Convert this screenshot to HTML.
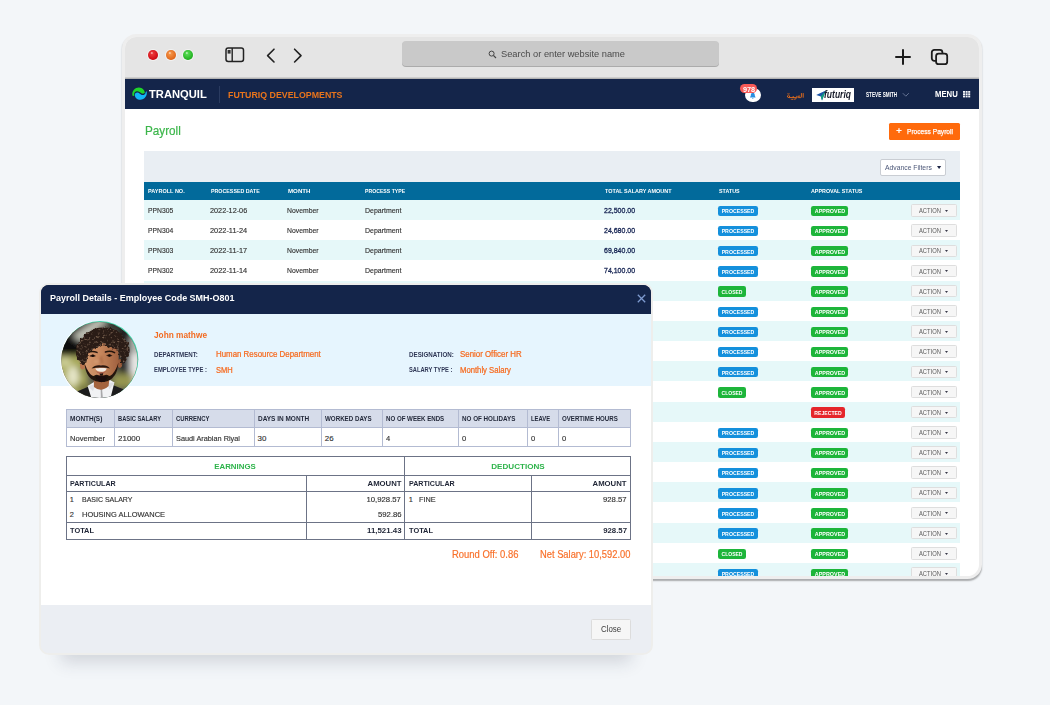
<!DOCTYPE html>
<html lang="en">
<head>
<meta charset="utf-8">
<title>Payroll</title>
<style>
html,body{margin:0;padding:0;}
body{width:1050px;height:705px;position:relative;overflow:hidden;background:#f3f6f9;font-family:"Liberation Sans",sans-serif;}
.t{position:absolute;white-space:nowrap;}
#win{position:absolute;left:122px;top:34px;width:854px;height:539px;border:3px solid #eeeeee;border-radius:14.5px;background:#fff;overflow:hidden;box-shadow:0 2px 1.5px -0.5px rgba(0,0,0,.3);}
#modal{position:absolute;left:39px;top:283px;width:610px;height:368px;border:2px solid #eeeeec;border-radius:10px;background:linear-gradient(#14254a 0,#14254a 28px,#fff 28px,#fff 320px,#ebeef3 320px);box-shadow:0 29px 16px -22px rgba(40,50,70,.17);}
#modal .clip{position:absolute;left:0;top:0;width:610px;height:368px;border-radius:8px;overflow:hidden;}
svg{position:absolute;overflow:visible;}
</style>
</head>
<body>
<div id="win">
<div style="position:absolute;left:0.00px;top:0.00px;width:854.00px;height:41.00px;background:#e5e5e5;"></div>
<div style="position:absolute;left:0.00px;top:39.60px;width:854.00px;height:2.00px;background:linear-gradient(#dadada,#a6a6a6);"></div>
<div style="position:absolute;left:22.90px;top:13.00px;width:9.80px;height:9.80px;border-radius:50%;background:radial-gradient(circle at 38% 30%, rgba(255,255,255,.75) 0%, rgba(255,255,255,0) 16%), radial-gradient(circle at 42% 36%, #f04040 0%, #cf0a14 70%);box-shadow:0 0 0 1px rgba(255,255,255,.5);"></div>
<div style="position:absolute;left:40.80px;top:13.00px;width:9.80px;height:9.80px;border-radius:50%;background:radial-gradient(circle at 38% 30%, rgba(255,255,255,.75) 0%, rgba(255,255,255,0) 16%), radial-gradient(circle at 42% 36%, #f79a4e 0%, #e0661a 70%);box-shadow:0 0 0 1px rgba(255,255,255,.5);"></div>
<div style="position:absolute;left:58.30px;top:13.00px;width:9.80px;height:9.80px;border-radius:50%;background:radial-gradient(circle at 38% 30%, rgba(255,255,255,.75) 0%, rgba(255,255,255,0) 16%), radial-gradient(circle at 42% 36%, #5fe05a 0%, #20b020 70%);box-shadow:0 0 0 1px rgba(255,255,255,.5);"></div>
<svg style="left:100px;top:10px" width="20" height="16" viewBox="0 0 20 16"><rect x="1" y="1" width="17.5" height="13.5" rx="2.2" fill="none" stroke="#222" stroke-width="1.5"/><line x1="7.2" y1="1" x2="7.2" y2="14.5" stroke="#222" stroke-width="1.4"/><rect x="2.6" y="3" width="3" height="3.6" fill="#333"/></svg>
<svg style="left:140px;top:10px" width="40" height="18" viewBox="0 0 40 18"><path d="M9 2.2 L2.6 8.6 L9 15" fill="none" stroke="#222" stroke-width="1.6" stroke-linecap="round" stroke-linejoin="round"/><path d="M29.6 2.2 L36 8.6 L29.6 15" fill="none" stroke="#222" stroke-width="1.6" stroke-linecap="round" stroke-linejoin="round"/></svg>
<div style="position:absolute;left:277.30px;top:4.30px;width:316.70px;height:25.20px;background:#c9c9c9;border-radius:4px;box-shadow:0 1px 0 rgba(0,0,0,.25);"></div>
<svg style="left:362.5px;top:12.5px" width="9" height="9" viewBox="0 0 9 9"><circle cx="3.6" cy="3.6" r="2.5" fill="none" stroke="#444" stroke-width="1"/><line x1="5.5" y1="5.5" x2="8" y2="8" stroke="#444" stroke-width="1.1"/></svg>
<svg style="left:768.1px;top:9.6px" width="20" height="20" viewBox="0 0 20 20"><path d="M10 2.9 V16.9 M3 9.9 H17" stroke="#1c1c1c" stroke-width="2" stroke-linecap="round"/></svg>
<svg style="left:804px;top:9.5px" width="22" height="22" viewBox="0 0 22 22"><rect x="2.8" y="2.8" width="10.6" height="11" rx="2.5" fill="none" stroke="#1c1c1c" stroke-width="1.8"/><rect x="7.1" y="6.6" width="11.1" height="10.6" rx="2.5" fill="#e5e5e5" stroke="#1c1c1c" stroke-width="1.8"/></svg>
<div style="position:absolute;left:0.00px;top:41.50px;width:854.00px;height:30.90px;background:#14254a;"></div>
<svg style="left:7px;top:50px" width="16" height="14" viewBox="0 0 16 14"><path d="M0.5 8.7 C-0.6 3.6 3.4 0.4 7 0.5 C10.4 0.6 12.6 3 12.8 5.8 C12.4 6.6 10.6 7 9.4 6.2 C8 5.2 6.8 4 4.8 4.2 C3.4 4.4 2.4 5.4 2.2 6.6 C2 7.6 2 8.2 2.2 8.9 Z" fill="#1fd52a"/><path d="M2.8 7.4 C3 6.2 4.2 5.4 5.4 5.5 C7 5.6 8 7.4 9.8 7.9 C11.6 8.4 13 7.4 13.4 6.2 C13.8 5.2 13.8 4.6 14.6 4.3 C15.8 8.6 12.4 12.8 8.4 12.8 C5 12.8 2.6 10.2 2.8 7.4 Z" fill="#12b7f5"/></svg>
<div style="position:absolute;left:94.20px;top:48.60px;width:1.00px;height:17.50px;background:#2a3b60;"></div>
<div style="position:absolute;left:620.40px;top:50.60px;width:15.40px;height:14.60px;background:#fff;border-radius:50%;"></div>
<svg style="left:624.4px;top:54.6px" width="7.6" height="7.6" viewBox="0 0 9 9"><path d="M4.5 0.8 C2.8 0.8 2.2 2.2 2.2 3.6 C2.2 5.2 1.2 5.8 1.2 6.4 H7.8 C7.8 5.8 6.8 5.2 6.8 3.6 C6.8 2.2 6.2 0.8 4.5 0.8 Z M3.6 7 a0.9 0.9 0 0 0 1.8 0 Z" fill="#2a8fe0"/></svg>
<div style="position:absolute;left:614.60px;top:46.90px;width:17.80px;height:9.60px;background:#f95a57;border-radius:4.8px;"></div>
<svg style="left:661px;top:55px" width="19" height="8" viewBox="0 0 19 8"><g fill="none" stroke="#e06c1c" stroke-width="0.95" stroke-linecap="round" stroke-linejoin="round"><path d="M17.2 1.5 V5.3"/><path d="M15.4 1.5 V4.9 Q15.4 5.6 14.6 5.6 H12.2 Q11.5 5.4 12.1 4.4 Q12.9 3.5 13.8 4.1"/><path d="M11 4.2 Q11.5 6.3 9.3 7.2"/><path d="M9.6 5.6 H5.2 M7.2 5.6 V4.4"/><path d="M4.9 5.6 Q2.6 6.1 1.5 5 Q1 3.7 2.4 3.1 Q3.9 3.4 3.7 5.2"/></g><g fill="#e06c1c"><circle cx="8.2" cy="7.2" r="0.6"/><circle cx="5.3" cy="7.2" r="0.55"/><circle cx="6.5" cy="7.2" r="0.55"/><circle cx="1.9" cy="1.7" r="0.55"/><circle cx="3.1" cy="1.7" r="0.55"/></g></svg>
<div style="position:absolute;left:687.00px;top:50.80px;width:42.00px;height:14.30px;background:#fff;"></div>
<svg style="left:690.6px;top:52.6px" width="11" height="11" viewBox="0 0 11 11"><path d="M0.2 5 L9.8 0.4 L6 10.4 L4.8 6.4 Z" fill="#1d55a8"/><path d="M4.8 6.4 L9.8 0.4 L6 10.4 Z" fill="#12a07c"/></svg>
<svg style="left:777px;top:55px" width="8" height="6" viewBox="0 0 8 6"><path d="M0.8 1.2 L3.8 4.2 L6.8 1.2" fill="none" stroke="#6d7c9c" stroke-width="0.9"/></svg>
<svg style="left:837.7px;top:53.9px" width="8" height="7" viewBox="0 0 8 7"><g fill="#f4f6fa"><rect x="0" y="0" width="2" height="1.8"/><rect x="2.6" y="0" width="2" height="1.8"/><rect x="5.2" y="0" width="2" height="1.8"/><rect x="0" y="2.3" width="2" height="1.8"/><rect x="2.6" y="2.3" width="2" height="1.8"/><rect x="5.2" y="2.3" width="2" height="1.8"/><rect x="0" y="4.6" width="2" height="1.8"/><rect x="2.6" y="4.6" width="2" height="1.8"/><rect x="5.2" y="4.6" width="2" height="1.8"/></g></svg>
<div style="position:absolute;left:763.90px;top:85.50px;width:71.30px;height:17.30px;background:#ff6a0c;border-radius:1.5px;"></div>
<div style="position:absolute;left:19.20px;top:114.40px;width:816.00px;height:30.40px;background:#e9eef3;"></div>
<div style="position:absolute;left:755.30px;top:121.50px;width:65.40px;height:17.50px;background:#fff;border:1px solid #c9cdd3;border-radius:2px;box-sizing:border-box;"></div>
<svg style="left:811.5px;top:128.9px" width="4.2" height="3" viewBox="0 0 4.2 3"><path d="M0 0 H4.2 L2.1 3 Z" fill="#1c2546"/></svg>
<div style="position:absolute;left:19.20px;top:144.90px;width:816.00px;height:18.00px;background:#026a9b;"></div>
<div style="position:absolute;left:19.20px;top:162.85px;width:816.00px;height:20.17px;background:#e6f8f9;"></div>
<div style="position:absolute;left:592.90px;top:168.74px;width:39.70px;height:10.40px;background:#1490dc;border-radius:2.2px;"></div>
<div style="position:absolute;left:685.80px;top:168.74px;width:37.40px;height:10.40px;background:#1db53a;border-radius:2.2px;"></div>
<div style="position:absolute;left:785.80px;top:167.24px;width:45.90px;height:12.40px;background:#f6f6f6;border:1px solid #dedede;border-radius:1.5px;box-sizing:border-box;"></div>
<svg style="left:820.10px;top:172.83px" width="3" height="2" viewBox="0 0 3 2"><path d="M0 0 H3 L1.5 2 Z" fill="#3a3a4a"/></svg>
<div style="position:absolute;left:592.90px;top:188.91px;width:39.70px;height:10.40px;background:#1490dc;border-radius:2.2px;"></div>
<div style="position:absolute;left:685.80px;top:188.91px;width:37.40px;height:10.40px;background:#1db53a;border-radius:2.2px;"></div>
<div style="position:absolute;left:785.80px;top:187.41px;width:45.90px;height:12.40px;background:#f6f6f6;border:1px solid #dedede;border-radius:1.5px;box-sizing:border-box;"></div>
<svg style="left:820.10px;top:193.00px" width="3" height="2" viewBox="0 0 3 2"><path d="M0 0 H3 L1.5 2 Z" fill="#3a3a4a"/></svg>
<div style="position:absolute;left:19.20px;top:203.19px;width:816.00px;height:20.17px;background:#e6f8f9;"></div>
<div style="position:absolute;left:592.90px;top:209.08px;width:39.70px;height:10.40px;background:#1490dc;border-radius:2.2px;"></div>
<div style="position:absolute;left:685.80px;top:209.08px;width:37.40px;height:10.40px;background:#1db53a;border-radius:2.2px;"></div>
<div style="position:absolute;left:785.80px;top:207.58px;width:45.90px;height:12.40px;background:#f6f6f6;border:1px solid #dedede;border-radius:1.5px;box-sizing:border-box;"></div>
<svg style="left:820.10px;top:213.17px" width="3" height="2" viewBox="0 0 3 2"><path d="M0 0 H3 L1.5 2 Z" fill="#3a3a4a"/></svg>
<div style="position:absolute;left:592.90px;top:229.25px;width:39.70px;height:10.40px;background:#1490dc;border-radius:2.2px;"></div>
<div style="position:absolute;left:685.80px;top:229.25px;width:37.40px;height:10.40px;background:#1db53a;border-radius:2.2px;"></div>
<div style="position:absolute;left:785.80px;top:227.75px;width:45.90px;height:12.40px;background:#f6f6f6;border:1px solid #dedede;border-radius:1.5px;box-sizing:border-box;"></div>
<svg style="left:820.10px;top:233.34px" width="3" height="2" viewBox="0 0 3 2"><path d="M0 0 H3 L1.5 2 Z" fill="#3a3a4a"/></svg>
<div style="position:absolute;left:19.20px;top:243.53px;width:816.00px;height:20.17px;background:#e6f8f9;"></div>
<div style="position:absolute;left:592.90px;top:249.41px;width:28.40px;height:10.40px;background:#1db53a;border-radius:2.2px;"></div>
<div style="position:absolute;left:685.80px;top:249.41px;width:37.40px;height:10.40px;background:#1db53a;border-radius:2.2px;"></div>
<div style="position:absolute;left:785.80px;top:247.91px;width:45.90px;height:12.40px;background:#f6f6f6;border:1px solid #dedede;border-radius:1.5px;box-sizing:border-box;"></div>
<svg style="left:820.10px;top:253.51px" width="3" height="2" viewBox="0 0 3 2"><path d="M0 0 H3 L1.5 2 Z" fill="#3a3a4a"/></svg>
<div style="position:absolute;left:592.90px;top:269.58px;width:39.70px;height:10.40px;background:#1490dc;border-radius:2.2px;"></div>
<div style="position:absolute;left:685.80px;top:269.58px;width:37.40px;height:10.40px;background:#1db53a;border-radius:2.2px;"></div>
<div style="position:absolute;left:785.80px;top:268.08px;width:45.90px;height:12.40px;background:#f6f6f6;border:1px solid #dedede;border-radius:1.5px;box-sizing:border-box;"></div>
<svg style="left:820.10px;top:273.69px" width="3" height="2" viewBox="0 0 3 2"><path d="M0 0 H3 L1.5 2 Z" fill="#3a3a4a"/></svg>
<div style="position:absolute;left:19.20px;top:283.87px;width:816.00px;height:20.17px;background:#e6f8f9;"></div>
<div style="position:absolute;left:592.90px;top:289.75px;width:39.70px;height:10.40px;background:#1490dc;border-radius:2.2px;"></div>
<div style="position:absolute;left:685.80px;top:289.75px;width:37.40px;height:10.40px;background:#1db53a;border-radius:2.2px;"></div>
<div style="position:absolute;left:785.80px;top:288.25px;width:45.90px;height:12.40px;background:#f6f6f6;border:1px solid #dedede;border-radius:1.5px;box-sizing:border-box;"></div>
<svg style="left:820.10px;top:293.86px" width="3" height="2" viewBox="0 0 3 2"><path d="M0 0 H3 L1.5 2 Z" fill="#3a3a4a"/></svg>
<div style="position:absolute;left:592.90px;top:309.92px;width:39.70px;height:10.40px;background:#1490dc;border-radius:2.2px;"></div>
<div style="position:absolute;left:685.80px;top:309.92px;width:37.40px;height:10.40px;background:#1db53a;border-radius:2.2px;"></div>
<div style="position:absolute;left:785.80px;top:308.42px;width:45.90px;height:12.40px;background:#f6f6f6;border:1px solid #dedede;border-radius:1.5px;box-sizing:border-box;"></div>
<svg style="left:820.10px;top:314.02px" width="3" height="2" viewBox="0 0 3 2"><path d="M0 0 H3 L1.5 2 Z" fill="#3a3a4a"/></svg>
<div style="position:absolute;left:19.20px;top:324.21px;width:816.00px;height:20.17px;background:#e6f8f9;"></div>
<div style="position:absolute;left:592.90px;top:330.10px;width:39.70px;height:10.40px;background:#1490dc;border-radius:2.2px;"></div>
<div style="position:absolute;left:685.80px;top:330.10px;width:37.40px;height:10.40px;background:#1db53a;border-radius:2.2px;"></div>
<div style="position:absolute;left:785.80px;top:328.60px;width:45.90px;height:12.40px;background:#f6f6f6;border:1px solid #dedede;border-radius:1.5px;box-sizing:border-box;"></div>
<svg style="left:820.10px;top:334.20px" width="3" height="2" viewBox="0 0 3 2"><path d="M0 0 H3 L1.5 2 Z" fill="#3a3a4a"/></svg>
<div style="position:absolute;left:592.90px;top:350.26px;width:28.40px;height:10.40px;background:#1db53a;border-radius:2.2px;"></div>
<div style="position:absolute;left:685.80px;top:350.26px;width:37.40px;height:10.40px;background:#1db53a;border-radius:2.2px;"></div>
<div style="position:absolute;left:785.80px;top:348.76px;width:45.90px;height:12.40px;background:#f6f6f6;border:1px solid #dedede;border-radius:1.5px;box-sizing:border-box;"></div>
<svg style="left:820.10px;top:354.37px" width="3" height="2" viewBox="0 0 3 2"><path d="M0 0 H3 L1.5 2 Z" fill="#3a3a4a"/></svg>
<div style="position:absolute;left:19.20px;top:364.55px;width:816.00px;height:20.17px;background:#e6f8f9;"></div>
<div style="position:absolute;left:685.80px;top:370.44px;width:34.30px;height:10.40px;background:#e5262b;border-radius:2.2px;"></div>
<div style="position:absolute;left:785.80px;top:368.94px;width:45.90px;height:12.40px;background:#f6f6f6;border:1px solid #dedede;border-radius:1.5px;box-sizing:border-box;"></div>
<svg style="left:820.10px;top:374.54px" width="3" height="2" viewBox="0 0 3 2"><path d="M0 0 H3 L1.5 2 Z" fill="#3a3a4a"/></svg>
<div style="position:absolute;left:592.90px;top:390.61px;width:39.70px;height:10.40px;background:#1490dc;border-radius:2.2px;"></div>
<div style="position:absolute;left:685.80px;top:390.61px;width:37.40px;height:10.40px;background:#1db53a;border-radius:2.2px;"></div>
<div style="position:absolute;left:785.80px;top:389.11px;width:45.90px;height:12.40px;background:#f6f6f6;border:1px solid #dedede;border-radius:1.5px;box-sizing:border-box;"></div>
<svg style="left:820.10px;top:394.71px" width="3" height="2" viewBox="0 0 3 2"><path d="M0 0 H3 L1.5 2 Z" fill="#3a3a4a"/></svg>
<div style="position:absolute;left:19.20px;top:404.89px;width:816.00px;height:20.17px;background:#e6f8f9;"></div>
<div style="position:absolute;left:592.90px;top:410.77px;width:39.70px;height:10.40px;background:#1490dc;border-radius:2.2px;"></div>
<div style="position:absolute;left:685.80px;top:410.77px;width:37.40px;height:10.40px;background:#1db53a;border-radius:2.2px;"></div>
<div style="position:absolute;left:785.80px;top:409.27px;width:45.90px;height:12.40px;background:#f6f6f6;border:1px solid #dedede;border-radius:1.5px;box-sizing:border-box;"></div>
<svg style="left:820.10px;top:414.88px" width="3" height="2" viewBox="0 0 3 2"><path d="M0 0 H3 L1.5 2 Z" fill="#3a3a4a"/></svg>
<div style="position:absolute;left:592.90px;top:430.95px;width:39.70px;height:10.40px;background:#1490dc;border-radius:2.2px;"></div>
<div style="position:absolute;left:685.80px;top:430.95px;width:37.40px;height:10.40px;background:#1db53a;border-radius:2.2px;"></div>
<div style="position:absolute;left:785.80px;top:429.45px;width:45.90px;height:12.40px;background:#f6f6f6;border:1px solid #dedede;border-radius:1.5px;box-sizing:border-box;"></div>
<svg style="left:820.10px;top:435.05px" width="3" height="2" viewBox="0 0 3 2"><path d="M0 0 H3 L1.5 2 Z" fill="#3a3a4a"/></svg>
<div style="position:absolute;left:19.20px;top:445.23px;width:816.00px;height:20.17px;background:#e6f8f9;"></div>
<div style="position:absolute;left:592.90px;top:451.12px;width:39.70px;height:10.40px;background:#1490dc;border-radius:2.2px;"></div>
<div style="position:absolute;left:685.80px;top:451.12px;width:37.40px;height:10.40px;background:#1db53a;border-radius:2.2px;"></div>
<div style="position:absolute;left:785.80px;top:449.62px;width:45.90px;height:12.40px;background:#f6f6f6;border:1px solid #dedede;border-radius:1.5px;box-sizing:border-box;"></div>
<svg style="left:820.10px;top:455.22px" width="3" height="2" viewBox="0 0 3 2"><path d="M0 0 H3 L1.5 2 Z" fill="#3a3a4a"/></svg>
<div style="position:absolute;left:592.90px;top:471.29px;width:39.70px;height:10.40px;background:#1490dc;border-radius:2.2px;"></div>
<div style="position:absolute;left:685.80px;top:471.29px;width:37.40px;height:10.40px;background:#1db53a;border-radius:2.2px;"></div>
<div style="position:absolute;left:785.80px;top:469.79px;width:45.90px;height:12.40px;background:#f6f6f6;border:1px solid #dedede;border-radius:1.5px;box-sizing:border-box;"></div>
<svg style="left:820.10px;top:475.39px" width="3" height="2" viewBox="0 0 3 2"><path d="M0 0 H3 L1.5 2 Z" fill="#3a3a4a"/></svg>
<div style="position:absolute;left:19.20px;top:485.57px;width:816.00px;height:20.17px;background:#e6f8f9;"></div>
<div style="position:absolute;left:592.90px;top:491.46px;width:39.70px;height:10.40px;background:#1490dc;border-radius:2.2px;"></div>
<div style="position:absolute;left:685.80px;top:491.46px;width:37.40px;height:10.40px;background:#1db53a;border-radius:2.2px;"></div>
<div style="position:absolute;left:785.80px;top:489.96px;width:45.90px;height:12.40px;background:#f6f6f6;border:1px solid #dedede;border-radius:1.5px;box-sizing:border-box;"></div>
<svg style="left:820.10px;top:495.56px" width="3" height="2" viewBox="0 0 3 2"><path d="M0 0 H3 L1.5 2 Z" fill="#3a3a4a"/></svg>
<div style="position:absolute;left:592.90px;top:511.62px;width:28.40px;height:10.40px;background:#1db53a;border-radius:2.2px;"></div>
<div style="position:absolute;left:685.80px;top:511.62px;width:37.40px;height:10.40px;background:#1db53a;border-radius:2.2px;"></div>
<div style="position:absolute;left:785.80px;top:510.12px;width:45.90px;height:12.40px;background:#f6f6f6;border:1px solid #dedede;border-radius:1.5px;box-sizing:border-box;"></div>
<svg style="left:820.10px;top:515.73px" width="3" height="2" viewBox="0 0 3 2"><path d="M0 0 H3 L1.5 2 Z" fill="#3a3a4a"/></svg>
<div style="position:absolute;left:19.20px;top:525.91px;width:816.00px;height:20.17px;background:#e6f8f9;"></div>
<div style="position:absolute;left:592.90px;top:531.80px;width:39.70px;height:10.40px;background:#1490dc;border-radius:2.2px;"></div>
<div style="position:absolute;left:685.80px;top:531.80px;width:37.40px;height:10.40px;background:#1db53a;border-radius:2.2px;"></div>
<div style="position:absolute;left:785.80px;top:530.30px;width:45.90px;height:12.40px;background:#f6f6f6;border:1px solid #dedede;border-radius:1.5px;box-sizing:border-box;"></div>
<svg style="left:820.10px;top:535.90px" width="3" height="2" viewBox="0 0 3 2"><path d="M0 0 H3 L1.5 2 Z" fill="#3a3a4a"/></svg>
<span class="t" style="top:12px;font-size:8.8px;line-height:11.44px;color:#4a4a4a;left:376px;transform:scaleX(1.0566);transform-origin:left center;">Search or enter website name</span>
<span class="t" style="top:50px;font-size:11px;line-height:14.3px;color:#ffffff;font-weight:700;left:24.4px;transform:scaleX(1.0171);transform-origin:left center;">TRANQUIL</span>
<span class="t" style="top:52px;font-size:9.6px;line-height:12.48px;color:#e8741c;font-weight:700;left:103.4px;transform:scaleX(0.9180);transform-origin:left center;">FUTURIQ DEVELOPMENTS</span>
<span class="t" style="top:48px;font-size:7.2px;line-height:9.36px;color:#fff;font-weight:700;left:523.9px;width:200px;text-align:center;transform:scaleX(1.0167);transform-origin:center center;">978</span>
<span class="t" style="top:51px;font-size:10.2px;line-height:13.26px;color:#181c2a;font-weight:700;left:699.2px;transform:scaleX(0.8372);transform-origin:left center;font-style:italic;">futuriq</span>
<span class="t" style="top:54px;font-size:6.6px;line-height:8.58px;color:#fff;font-weight:700;left:740.9px;transform:scaleX(0.7096);transform-origin:left center;">STEVE SMITH</span>
<span class="t" style="top:53px;font-size:8.2px;line-height:10.66px;color:#fff;font-weight:700;left:810px;transform:scaleX(0.9457);transform-origin:left center;">MENU</span>
<span class="t" style="top:86px;font-size:12.6px;line-height:16.38px;color:#3cb64b;left:19.5px;transform:scaleX(0.9299);transform-origin:left center;-webkit-text-stroke:0.2px;">Payroll</span>
<span class="t" style="top:89px;font-size:9px;line-height:11.7px;color:#fff;font-weight:700;left:770.9px;transform:scaleX(1.1395);transform-origin:left center;">+</span>
<span class="t" style="top:90px;font-size:7.3px;line-height:9.49px;color:#fff;left:781.8px;transform:scaleX(0.9072);transform-origin:left center;-webkit-text-stroke:0.25px;">Process Payroll</span>
<span class="t" style="top:126px;font-size:7.2px;line-height:9.36px;color:#4b5677;left:760.4px;transform:scaleX(0.9446);transform-origin:left center;">Advance Filters</span>
<span class="t" style="top:150px;font-size:6.1px;line-height:7.93px;color:#fff;font-weight:700;left:23px;transform:scaleX(0.9055);transform-origin:left center;">PAYROLL NO.</span>
<span class="t" style="top:150px;font-size:6.1px;line-height:7.93px;color:#fff;font-weight:700;left:85.5px;transform:scaleX(0.8700);transform-origin:left center;">PROCESSED DATE</span>
<span class="t" style="top:150px;font-size:6.1px;line-height:7.93px;color:#fff;font-weight:700;left:162.8px;transform:scaleX(1.0070);transform-origin:left center;">MONTH</span>
<span class="t" style="top:150px;font-size:6.1px;line-height:7.93px;color:#fff;font-weight:700;left:240.3px;transform:scaleX(0.8456);transform-origin:left center;">PROCESS TYPE</span>
<span class="t" style="top:150px;font-size:6.1px;line-height:7.93px;color:#fff;font-weight:700;left:479.9px;transform:scaleX(0.8954);transform-origin:left center;">TOTAL SALARY AMOUNT</span>
<span class="t" style="top:150px;font-size:6.1px;line-height:7.93px;color:#fff;font-weight:700;left:593.6px;transform:scaleX(0.8772);transform-origin:left center;">STATUS</span>
<span class="t" style="top:150px;font-size:6.1px;line-height:7.93px;color:#fff;font-weight:700;left:686.4px;transform:scaleX(0.8791);transform-origin:left center;">APPROVAL STATUS</span>
<span class="t" style="top:169px;font-size:7.7px;line-height:10.01px;color:#333;left:22.8px;transform:scaleX(0.8799);transform-origin:left center;-webkit-text-stroke:0.15px;">PPN305</span>
<span class="t" style="top:169px;font-size:7.7px;line-height:10.01px;color:#333;left:84.7px;transform:scaleX(0.9459);transform-origin:left center;-webkit-text-stroke:0.15px;">2022-12-06</span>
<span class="t" style="top:169px;font-size:7.7px;line-height:10.01px;color:#333;left:162.3px;transform:scaleX(0.8881);transform-origin:left center;-webkit-text-stroke:0.15px;">November</span>
<span class="t" style="top:169px;font-size:7.7px;line-height:10.01px;color:#333;left:240px;transform:scaleX(0.9061);transform-origin:left center;-webkit-text-stroke:0.15px;">Department</span>
<span class="t" style="top:169px;font-size:7.7px;line-height:10.01px;color:#1a2856;left:479.2px;transform:scaleX(0.9093);transform-origin:left center;-webkit-text-stroke:0.32px;">22,500.00</span>
<span class="t" style="top:171px;font-size:6.0px;line-height:7.8px;color:#fff;font-weight:700;left:512.75px;width:200px;text-align:center;transform:scaleX(0.8677);transform-origin:center center;">PROCESSED</span>
<span class="t" style="top:171px;font-size:6.0px;line-height:7.8px;color:#fff;font-weight:700;left:604.5px;width:200px;text-align:center;transform:scaleX(0.8994);transform-origin:center center;">APPROVED</span>
<span class="t" style="top:170px;font-size:6.4px;line-height:8.32px;color:#5a5a5a;left:793.9px;transform:scaleX(0.9066);transform-origin:left center;">ACTION</span>
<span class="t" style="top:189px;font-size:7.7px;line-height:10.01px;color:#333;left:22.8px;transform:scaleX(0.8799);transform-origin:left center;-webkit-text-stroke:0.15px;">PPN304</span>
<span class="t" style="top:189px;font-size:7.7px;line-height:10.01px;color:#333;left:84.7px;transform:scaleX(0.9596);transform-origin:left center;-webkit-text-stroke:0.15px;">2022-11-24</span>
<span class="t" style="top:189px;font-size:7.7px;line-height:10.01px;color:#333;left:162.3px;transform:scaleX(0.8881);transform-origin:left center;-webkit-text-stroke:0.15px;">November</span>
<span class="t" style="top:189px;font-size:7.7px;line-height:10.01px;color:#333;left:240px;transform:scaleX(0.9061);transform-origin:left center;-webkit-text-stroke:0.15px;">Department</span>
<span class="t" style="top:189px;font-size:7.7px;line-height:10.01px;color:#1a2856;left:479.2px;transform:scaleX(0.9093);transform-origin:left center;-webkit-text-stroke:0.32px;">24,680.00</span>
<span class="t" style="top:191px;font-size:6.0px;line-height:7.8px;color:#fff;font-weight:700;left:512.75px;width:200px;text-align:center;transform:scaleX(0.8677);transform-origin:center center;">PROCESSED</span>
<span class="t" style="top:191px;font-size:6.0px;line-height:7.8px;color:#fff;font-weight:700;left:604.5px;width:200px;text-align:center;transform:scaleX(0.8994);transform-origin:center center;">APPROVED</span>
<span class="t" style="top:190px;font-size:6.4px;line-height:8.32px;color:#5a5a5a;left:793.9px;transform:scaleX(0.9066);transform-origin:left center;">ACTION</span>
<span class="t" style="top:209px;font-size:7.7px;line-height:10.01px;color:#333;left:22.8px;transform:scaleX(0.8799);transform-origin:left center;-webkit-text-stroke:0.15px;">PPN303</span>
<span class="t" style="top:209px;font-size:7.7px;line-height:10.01px;color:#333;left:84.7px;transform:scaleX(0.9596);transform-origin:left center;-webkit-text-stroke:0.15px;">2022-11-17</span>
<span class="t" style="top:209px;font-size:7.7px;line-height:10.01px;color:#333;left:162.3px;transform:scaleX(0.8881);transform-origin:left center;-webkit-text-stroke:0.15px;">November</span>
<span class="t" style="top:209px;font-size:7.7px;line-height:10.01px;color:#333;left:240px;transform:scaleX(0.9061);transform-origin:left center;-webkit-text-stroke:0.15px;">Department</span>
<span class="t" style="top:209px;font-size:7.7px;line-height:10.01px;color:#1a2856;left:479.2px;transform:scaleX(0.9093);transform-origin:left center;-webkit-text-stroke:0.32px;">69,840.00</span>
<span class="t" style="top:212px;font-size:6.0px;line-height:7.8px;color:#fff;font-weight:700;left:512.75px;width:200px;text-align:center;transform:scaleX(0.8677);transform-origin:center center;">PROCESSED</span>
<span class="t" style="top:212px;font-size:6.0px;line-height:7.8px;color:#fff;font-weight:700;left:604.5px;width:200px;text-align:center;transform:scaleX(0.8994);transform-origin:center center;">APPROVED</span>
<span class="t" style="top:210px;font-size:6.4px;line-height:8.32px;color:#5a5a5a;left:793.9px;transform:scaleX(0.9066);transform-origin:left center;">ACTION</span>
<span class="t" style="top:229px;font-size:7.7px;line-height:10.01px;color:#333;left:22.8px;transform:scaleX(0.8799);transform-origin:left center;-webkit-text-stroke:0.15px;">PPN302</span>
<span class="t" style="top:229px;font-size:7.7px;line-height:10.01px;color:#333;left:84.7px;transform:scaleX(0.9596);transform-origin:left center;-webkit-text-stroke:0.15px;">2022-11-14</span>
<span class="t" style="top:229px;font-size:7.7px;line-height:10.01px;color:#333;left:162.3px;transform:scaleX(0.8881);transform-origin:left center;-webkit-text-stroke:0.15px;">November</span>
<span class="t" style="top:229px;font-size:7.7px;line-height:10.01px;color:#333;left:240px;transform:scaleX(0.9061);transform-origin:left center;-webkit-text-stroke:0.15px;">Department</span>
<span class="t" style="top:229px;font-size:7.7px;line-height:10.01px;color:#1a2856;left:479.2px;transform:scaleX(0.9093);transform-origin:left center;-webkit-text-stroke:0.32px;">74,100.00</span>
<span class="t" style="top:232px;font-size:6.0px;line-height:7.8px;color:#fff;font-weight:700;left:512.75px;width:200px;text-align:center;transform:scaleX(0.8677);transform-origin:center center;">PROCESSED</span>
<span class="t" style="top:232px;font-size:6.0px;line-height:7.8px;color:#fff;font-weight:700;left:604.5px;width:200px;text-align:center;transform:scaleX(0.8994);transform-origin:center center;">APPROVED</span>
<span class="t" style="top:231px;font-size:6.4px;line-height:8.32px;color:#5a5a5a;left:793.9px;transform:scaleX(0.9066);transform-origin:left center;">ACTION</span>
<span class="t" style="top:252px;font-size:6.0px;line-height:7.8px;color:#fff;font-weight:700;left:507.1px;width:200px;text-align:center;transform:scaleX(0.8395);transform-origin:center center;">CLOSED</span>
<span class="t" style="top:252px;font-size:6.0px;line-height:7.8px;color:#fff;font-weight:700;left:604.5px;width:200px;text-align:center;transform:scaleX(0.8994);transform-origin:center center;">APPROVED</span>
<span class="t" style="top:251px;font-size:6.4px;line-height:8.32px;color:#5a5a5a;left:793.9px;transform:scaleX(0.9066);transform-origin:left center;">ACTION</span>
<span class="t" style="top:272px;font-size:6.0px;line-height:7.8px;color:#fff;font-weight:700;left:512.75px;width:200px;text-align:center;transform:scaleX(0.8677);transform-origin:center center;">PROCESSED</span>
<span class="t" style="top:272px;font-size:6.0px;line-height:7.8px;color:#fff;font-weight:700;left:604.5px;width:200px;text-align:center;transform:scaleX(0.8994);transform-origin:center center;">APPROVED</span>
<span class="t" style="top:271px;font-size:6.4px;line-height:8.32px;color:#5a5a5a;left:793.9px;transform:scaleX(0.9066);transform-origin:left center;">ACTION</span>
<span class="t" style="top:292px;font-size:6.0px;line-height:7.8px;color:#fff;font-weight:700;left:512.75px;width:200px;text-align:center;transform:scaleX(0.8677);transform-origin:center center;">PROCESSED</span>
<span class="t" style="top:292px;font-size:6.0px;line-height:7.8px;color:#fff;font-weight:700;left:604.5px;width:200px;text-align:center;transform:scaleX(0.8994);transform-origin:center center;">APPROVED</span>
<span class="t" style="top:291px;font-size:6.4px;line-height:8.32px;color:#5a5a5a;left:793.9px;transform:scaleX(0.9066);transform-origin:left center;">ACTION</span>
<span class="t" style="top:312px;font-size:6.0px;line-height:7.8px;color:#fff;font-weight:700;left:512.75px;width:200px;text-align:center;transform:scaleX(0.8677);transform-origin:center center;">PROCESSED</span>
<span class="t" style="top:312px;font-size:6.0px;line-height:7.8px;color:#fff;font-weight:700;left:604.5px;width:200px;text-align:center;transform:scaleX(0.8994);transform-origin:center center;">APPROVED</span>
<span class="t" style="top:311px;font-size:6.4px;line-height:8.32px;color:#5a5a5a;left:793.9px;transform:scaleX(0.9066);transform-origin:left center;">ACTION</span>
<span class="t" style="top:333px;font-size:6.0px;line-height:7.8px;color:#fff;font-weight:700;left:512.75px;width:200px;text-align:center;transform:scaleX(0.8677);transform-origin:center center;">PROCESSED</span>
<span class="t" style="top:333px;font-size:6.0px;line-height:7.8px;color:#fff;font-weight:700;left:604.5px;width:200px;text-align:center;transform:scaleX(0.8994);transform-origin:center center;">APPROVED</span>
<span class="t" style="top:331px;font-size:6.4px;line-height:8.32px;color:#5a5a5a;left:793.9px;transform:scaleX(0.9066);transform-origin:left center;">ACTION</span>
<span class="t" style="top:353px;font-size:6.0px;line-height:7.8px;color:#fff;font-weight:700;left:507.1px;width:200px;text-align:center;transform:scaleX(0.8395);transform-origin:center center;">CLOSED</span>
<span class="t" style="top:353px;font-size:6.0px;line-height:7.8px;color:#fff;font-weight:700;left:604.5px;width:200px;text-align:center;transform:scaleX(0.8994);transform-origin:center center;">APPROVED</span>
<span class="t" style="top:352px;font-size:6.4px;line-height:8.32px;color:#5a5a5a;left:793.9px;transform:scaleX(0.9066);transform-origin:left center;">ACTION</span>
<span class="t" style="top:373px;font-size:6.0px;line-height:7.8px;color:#fff;font-weight:700;left:602.95px;width:200px;text-align:center;transform:scaleX(0.8558);transform-origin:center center;">REJECTED</span>
<span class="t" style="top:372px;font-size:6.4px;line-height:8.32px;color:#5a5a5a;left:793.9px;transform:scaleX(0.9066);transform-origin:left center;">ACTION</span>
<span class="t" style="top:393px;font-size:6.0px;line-height:7.8px;color:#fff;font-weight:700;left:512.75px;width:200px;text-align:center;transform:scaleX(0.8677);transform-origin:center center;">PROCESSED</span>
<span class="t" style="top:393px;font-size:6.0px;line-height:7.8px;color:#fff;font-weight:700;left:604.5px;width:200px;text-align:center;transform:scaleX(0.8994);transform-origin:center center;">APPROVED</span>
<span class="t" style="top:392px;font-size:6.4px;line-height:8.32px;color:#5a5a5a;left:793.9px;transform:scaleX(0.9066);transform-origin:left center;">ACTION</span>
<span class="t" style="top:413px;font-size:6.0px;line-height:7.8px;color:#fff;font-weight:700;left:512.75px;width:200px;text-align:center;transform:scaleX(0.8677);transform-origin:center center;">PROCESSED</span>
<span class="t" style="top:413px;font-size:6.0px;line-height:7.8px;color:#fff;font-weight:700;left:604.5px;width:200px;text-align:center;transform:scaleX(0.8994);transform-origin:center center;">APPROVED</span>
<span class="t" style="top:412px;font-size:6.4px;line-height:8.32px;color:#5a5a5a;left:793.9px;transform:scaleX(0.9066);transform-origin:left center;">ACTION</span>
<span class="t" style="top:433px;font-size:6.0px;line-height:7.8px;color:#fff;font-weight:700;left:512.75px;width:200px;text-align:center;transform:scaleX(0.8677);transform-origin:center center;">PROCESSED</span>
<span class="t" style="top:433px;font-size:6.0px;line-height:7.8px;color:#fff;font-weight:700;left:604.5px;width:200px;text-align:center;transform:scaleX(0.8994);transform-origin:center center;">APPROVED</span>
<span class="t" style="top:432px;font-size:6.4px;line-height:8.32px;color:#5a5a5a;left:793.9px;transform:scaleX(0.9066);transform-origin:left center;">ACTION</span>
<span class="t" style="top:454px;font-size:6.0px;line-height:7.8px;color:#fff;font-weight:700;left:512.75px;width:200px;text-align:center;transform:scaleX(0.8677);transform-origin:center center;">PROCESSED</span>
<span class="t" style="top:454px;font-size:6.0px;line-height:7.8px;color:#fff;font-weight:700;left:604.5px;width:200px;text-align:center;transform:scaleX(0.8994);transform-origin:center center;">APPROVED</span>
<span class="t" style="top:452px;font-size:6.4px;line-height:8.32px;color:#5a5a5a;left:793.9px;transform:scaleX(0.9066);transform-origin:left center;">ACTION</span>
<span class="t" style="top:474px;font-size:6.0px;line-height:7.8px;color:#fff;font-weight:700;left:512.75px;width:200px;text-align:center;transform:scaleX(0.8677);transform-origin:center center;">PROCESSED</span>
<span class="t" style="top:474px;font-size:6.0px;line-height:7.8px;color:#fff;font-weight:700;left:604.5px;width:200px;text-align:center;transform:scaleX(0.8994);transform-origin:center center;">APPROVED</span>
<span class="t" style="top:473px;font-size:6.4px;line-height:8.32px;color:#5a5a5a;left:793.9px;transform:scaleX(0.9066);transform-origin:left center;">ACTION</span>
<span class="t" style="top:494px;font-size:6.0px;line-height:7.8px;color:#fff;font-weight:700;left:512.75px;width:200px;text-align:center;transform:scaleX(0.8677);transform-origin:center center;">PROCESSED</span>
<span class="t" style="top:494px;font-size:6.0px;line-height:7.8px;color:#fff;font-weight:700;left:604.5px;width:200px;text-align:center;transform:scaleX(0.8994);transform-origin:center center;">APPROVED</span>
<span class="t" style="top:493px;font-size:6.4px;line-height:8.32px;color:#5a5a5a;left:793.9px;transform:scaleX(0.9066);transform-origin:left center;">ACTION</span>
<span class="t" style="top:514px;font-size:6.0px;line-height:7.8px;color:#fff;font-weight:700;left:507.1px;width:200px;text-align:center;transform:scaleX(0.8395);transform-origin:center center;">CLOSED</span>
<span class="t" style="top:514px;font-size:6.0px;line-height:7.8px;color:#fff;font-weight:700;left:604.5px;width:200px;text-align:center;transform:scaleX(0.8994);transform-origin:center center;">APPROVED</span>
<span class="t" style="top:513px;font-size:6.4px;line-height:8.32px;color:#5a5a5a;left:793.9px;transform:scaleX(0.9066);transform-origin:left center;">ACTION</span>
<span class="t" style="top:534px;font-size:6.0px;line-height:7.8px;color:#fff;font-weight:700;left:512.75px;width:200px;text-align:center;transform:scaleX(0.8677);transform-origin:center center;">PROCESSED</span>
<span class="t" style="top:534px;font-size:6.0px;line-height:7.8px;color:#fff;font-weight:700;left:604.5px;width:200px;text-align:center;transform:scaleX(0.8994);transform-origin:center center;">APPROVED</span>
<span class="t" style="top:533px;font-size:6.4px;line-height:8.32px;color:#5a5a5a;left:793.9px;transform:scaleX(0.9066);transform-origin:left center;">ACTION</span>
</div>
<div id="modal"><div class="clip">
<div style="position:absolute;left:0.00px;top:0.00px;width:611.00px;height:28.80px;background:#14254a;"></div>
<svg style="left:596px;top:9.2px" width="9" height="9" viewBox="0 0 9 9"><path d="M0.8 0.8 L8.2 8.2 M8.2 0.8 L0.8 8.2" stroke="#7e9bd0" stroke-width="1.3"/></svg>
<div style="position:absolute;left:0.00px;top:28.80px;width:611.00px;height:72.60px;background:#e6f5fe;"></div>
<div style="position:absolute;left:25.00px;top:124.30px;width:564.60px;height:18.30px;background:#d6dcea;"></div>
<div style="position:absolute;left:25.00px;top:124.30px;width:564.60px;height:38.20px;border:1px solid #b3bbd2;box-sizing:border-box;"></div>
<div style="position:absolute;left:25.00px;top:142.20px;width:564.60px;height:1.00px;background:#b3bbd2;"></div>
<div style="position:absolute;left:73.00px;top:124.30px;width:1.00px;height:38.20px;background:#b3bbd2;"></div>
<div style="position:absolute;left:130.90px;top:124.30px;width:1.00px;height:38.20px;background:#b3bbd2;"></div>
<div style="position:absolute;left:212.50px;top:124.30px;width:1.00px;height:38.20px;background:#b3bbd2;"></div>
<div style="position:absolute;left:279.70px;top:124.30px;width:1.00px;height:38.20px;background:#b3bbd2;"></div>
<div style="position:absolute;left:340.50px;top:124.30px;width:1.00px;height:38.20px;background:#b3bbd2;"></div>
<div style="position:absolute;left:416.80px;top:124.30px;width:1.00px;height:38.20px;background:#b3bbd2;"></div>
<div style="position:absolute;left:486.00px;top:124.30px;width:1.00px;height:38.20px;background:#b3bbd2;"></div>
<div style="position:absolute;left:516.50px;top:124.30px;width:1.00px;height:38.20px;background:#b3bbd2;"></div>
<div style="position:absolute;left:24.80px;top:171.20px;width:565.00px;height:83.60px;border:1px solid #6c7386;box-sizing:border-box;"></div>
<div style="position:absolute;left:24.80px;top:190.00px;width:565.00px;height:1.00px;background:#6c7386;"></div>
<div style="position:absolute;left:24.80px;top:205.50px;width:565.00px;height:1.00px;background:#6c7386;"></div>
<div style="position:absolute;left:24.80px;top:236.80px;width:565.00px;height:1.00px;background:#6c7386;"></div>
<div style="position:absolute;left:363.20px;top:171.20px;width:1.00px;height:83.60px;background:#6c7386;"></div>
<div style="position:absolute;left:264.60px;top:190.50px;width:1.00px;height:64.30px;background:#6c7386;"></div>
<div style="position:absolute;left:490.20px;top:190.50px;width:1.00px;height:64.30px;background:#6c7386;"></div>
<div style="position:absolute;left:0.00px;top:320.80px;width:611.00px;height:48.20px;background:#ebeef3;"></div>
<div style="position:absolute;left:549.60px;top:334.40px;width:40.20px;height:20.20px;background:#f6f6f6;border:1px solid #dcdcdc;border-radius:1.5px;box-sizing:border-box;"></div>
<svg style="left:19.2px;top:35.2px" width="79" height="80" viewBox="0 0 79 80">
<defs><clipPath id="av"><circle cx="39.4" cy="40" r="38.1"/></clipPath>
<filter id="b4" x="-40%" y="-40%" width="180%" height="180%"><feGaussianBlur stdDeviation="3.2"/></filter>
<filter id="b2" x="-40%" y="-40%" width="180%" height="180%"><feGaussianBlur stdDeviation="1.6"/></filter>
<filter id="b1" x="-30%" y="-30%" width="160%" height="160%"><feGaussianBlur stdDeviation="0.9"/></filter>
<filter id="b05" x="-30%" y="-30%" width="160%" height="160%"><feGaussianBlur stdDeviation="0.5"/></filter>
<filter id="curl" x="-20%" y="-20%" width="140%" height="140%"><feTurbulence type="fractalNoise" baseFrequency="0.32" numOctaves="2" seed="7" result="n"/><feDisplacementMap in="SourceGraphic" in2="n" scale="4.5" xChannelSelector="R" yChannelSelector="G"/><feGaussianBlur stdDeviation="0.35"/></filter>
<filter id="tex" x="0" y="0" width="100%" height="100%"><feTurbulence type="fractalNoise" baseFrequency="0.42" numOctaves="2" seed="11" result="n"/><feColorMatrix in="n" type="matrix" values="0 0 0 0 0.40  0 0 0 0 0.26  0 0 0 0 0.17  3.0 0 0 0 -1.62" result="c"/><feComposite in="c" in2="SourceAlpha" operator="in"/><feGaussianBlur stdDeviation="0.3"/></filter>
<linearGradient id="skin" x1="0" y1="0" x2="1" y2="0"><stop offset="0" stop-color="#d59a70"/><stop offset="0.5" stop-color="#c5855b"/><stop offset="1" stop-color="#a0613f"/></linearGradient>
</defs>
<circle cx="39.4" cy="40" r="39.2" fill="#fdfefe"/>
<circle cx="40.05" cy="39.35" r="38.35" fill="#3fcfa6"/>
<g clip-path="url(#av)">
<rect width="79" height="80" fill="#55554c"/>
<g filter="url(#b4)">
<rect x="-6" y="2" width="30" height="36" fill="#0a0b0e"/>
<path d="M12 16 L38 -2 L52 -2 L22 22 Z" fill="#c3c5b8"/>
<rect x="46" y="-4" width="40" height="14" fill="#34352f"/>
<rect x="58" y="8" width="14" height="30" fill="#1f1f1d"/>
<rect x="70" y="16" width="14" height="18" fill="#b4b5b0"/>
<rect x="60" y="38" width="10" height="18" fill="#242422"/>
<rect x="70" y="34" width="12" height="34" fill="#eaeae7"/>
<rect x="-6" y="36" width="34" height="42" fill="#a9aa5c"/>
<ellipse cx="13" cy="56" rx="6" ry="10" fill="#e6e6c8"/>
<ellipse cx="5" cy="42" rx="6" ry="5" fill="#cfd09a"/>
<ellipse cx="22" cy="50" rx="4" ry="6" fill="#8c8d45"/>
<rect x="52" y="54" width="22" height="14" fill="#96964f"/>
<rect x="18" y="64" width="14" height="10" fill="#77773f"/>
</g>
<!-- blazer + shirt -->
<path d="M8 80 L17 71.5 L30 66 L50 64 L64 69.5 L72 80 Z" fill="#1b1b1e" filter="url(#b05)"/>
<path d="M27.6 66 L32 80 L50 80 L54.4 62.6 L50 60 L34 62 Z" fill="#f1f2f4" filter="url(#b05)"/>
<path d="M40.6 68 L41 80 L43 80 L42 68 Z" fill="#a8a8aa" filter="url(#b05)"/>
<path d="M27.6 66 L33 71 L36 64 Z M54.4 62.6 L49.6 69.6 L46.6 63 Z" fill="#dfe0e4" filter="url(#b05)"/>
<!-- neck -->
<path d="M33.6 54 L34 67 Q41 73 48.6 66 L50 54 Z" fill="#a4633e" filter="url(#b05)"/>
<!-- ears -->
<ellipse cx="22.6" cy="45.2" rx="2.6" ry="4.4" fill="#b9764f" filter="url(#b05)"/><ellipse cx="59.8" cy="43.6" rx="2.4" ry="4.4" fill="#9a5c3b" filter="url(#b05)"/>
<!-- face -->
<path d="M24.2 34 C23.6 15 58.8 15 58.6 34 C59 44 57.6 52 52 58 C47 63 37 63.4 31.4 58.6 C25.6 53 24.4 44 24.2 34 Z" fill="url(#skin)" filter="url(#b05)"/>
<!-- beard -->
<path d="M24.4 43 C25.2 50 27 55.6 31.4 59 C36.6 63.2 47 63 52 58.4 C56.4 54.4 57.8 49.6 58.4 42.6 C57.2 46.6 55.6 50.6 53 53.4 C51.4 55.4 49.6 56.6 48.4 55.6 C47 54.4 45.6 54.6 44 55.4 C42.4 56.2 40.4 56.2 39 55.4 C37.4 54.6 36 54.4 34.6 55.6 C33.4 56.6 31.4 55.4 29.8 53.4 C27.4 50.6 25.8 46.6 24.4 43 Z" fill="#21120b" filter="url(#b05)"/>
<path d="M35.4 57 Q41.4 54.2 47.6 56.8 Q45.4 62 41.4 62.2 Q37.6 62 35.4 57 Z" fill="#1c0f09" filter="url(#b05)"/>
<path d="M39.6 53 Q41.4 52.4 43.2 53 L42.8 55.6 Q41.4 56 40 55.6 Z" fill="#21120b" filter="url(#b05)"/>
<!-- moustache + mouth -->
<path d="M31.6 48.6 C34 45.4 38 44.8 41 45.6 C44 44.8 47.6 45.6 50 48.4 C47 47.6 44 47.4 41 47.6 C38 47.4 35 47.8 31.6 48.6 Z" fill="#2a1810" filter="url(#b05)"/>
<path d="M35.2 48.6 C38 47.8 44 47.8 46.8 48.4 C45.8 51 43.6 51.8 41 51.8 C38.4 51.8 36.4 51 35.2 48.6 Z" fill="#f3ebe4" filter="url(#b05)"/>
<path d="M35.4 51 Q41 54.6 46.6 50.8 Q44 53.8 41 53.8 Q38 53.8 35.4 51 Z" fill="#a8524a" filter="url(#b05)"/>
<!-- nose -->
<path d="M40.6 36 C40 39 38.4 41.4 38 43 Q41 44.6 44 43 C43.4 41 42.4 39 42.6 36 Z" fill="#b06f49" filter="url(#b1)"/>
<ellipse cx="37.2" cy="41.6" rx="3.4" ry="2" fill="#d9a47e" opacity=".55" filter="url(#b1)"/>
<!-- eyes / brows -->
<path d="M27.6 32.8 Q32 30.4 37 32.4 M45.4 32 Q50 30.2 54.6 32.6" stroke="#24130c" stroke-width="1.5" fill="none" stroke-linecap="round" filter="url(#b05)"/>
<path d="M29.2 35.9 Q32.6 33.6 36 35.9 Q32.6 37.6 29.2 35.9 Z M46 35.5 Q49.4 33.4 52.6 35.7 Q49.4 37.4 46 35.5 Z" fill="#3a2218" filter="url(#b05)"/><circle cx="32.8" cy="35.7" r="1.25" fill="#120a07"/><circle cx="49.4" cy="35.4" r="1.25" fill="#120a07"/>
<!-- hair -->
<g filter="url(#curl)" fill="#2b1a13">
<path d="M18.6 42 C14.6 36 15.4 26 20.6 19.6 C25 11.6 34 7.6 42.6 7.4 C52 7 61.4 11.6 65.6 19.6 C70.6 24.6 71 33.6 67 38 C66 42 63 44.4 61 43 C60.4 38 59.4 32.6 56 28.6 C51.6 29 47 27 44.6 23.6 C40.6 27 35.6 30 30.6 30.4 C28 34 26.8 39.6 26.4 43.6 C23.6 45 20.4 44.6 18.6 42 Z"/>
</g>
<g filter="url(#tex)" opacity=".75"><path d="M18.6 42 C14.6 36 15.4 26 20.6 19.6 C25 11.6 34 7.6 42.6 7.4 C52 7 61.4 11.6 65.6 19.6 C70.6 24.6 71 33.6 67 38 C66 42 63 44.4 61 43 C60.4 38 59.4 32.6 56 28.6 C51.6 29 47 27 44.6 23.6 C40.6 27 35.6 30 30.6 30.4 C28 34 26.8 39.6 26.4 43.6 C23.6 45 20.4 44.6 18.6 42 Z" fill="#000"/></g>
</g></svg>
<span class="t" style="top:7px;font-size:9.6px;line-height:12.48px;color:#fff;font-weight:700;left:9px;transform:scaleX(0.9352);transform-origin:left center;">Payroll Details - Employee Code SMH-O801</span>
<span class="t" style="top:45px;font-size:8.8px;line-height:11.44px;color:#f26b22;font-weight:700;left:113.4px;transform:scaleX(0.9427);transform-origin:left center;">John mathwe</span>
<span class="t" style="top:66px;font-size:6.7px;line-height:8.71px;color:#2f3756;font-weight:700;left:113.4px;transform:scaleX(0.9254);transform-origin:left center;">DEPARTMENT:</span>
<span class="t" style="top:65px;font-size:8.2px;line-height:10.66px;color:#f6691d;left:175.4px;transform:scaleX(0.9635);transform-origin:left center;-webkit-text-stroke:0.22px;">Human Resource Department</span>
<span class="t" style="top:81px;font-size:6.7px;line-height:8.71px;color:#2f3756;font-weight:700;left:113.4px;transform:scaleX(0.8749);transform-origin:left center;">EMPLOYEE TYPE :</span>
<span class="t" style="top:81px;font-size:8.2px;line-height:10.66px;color:#f6691d;left:175px;transform:scaleX(0.9174);transform-origin:left center;-webkit-text-stroke:0.22px;">SMH</span>
<span class="t" style="top:66px;font-size:6.7px;line-height:8.71px;color:#2f3756;font-weight:700;left:367.6px;transform:scaleX(0.9297);transform-origin:left center;">DESIGNATION:</span>
<span class="t" style="top:65px;font-size:8.2px;line-height:10.66px;color:#f6691d;left:418.8px;transform:scaleX(0.9623);transform-origin:left center;-webkit-text-stroke:0.22px;">Senior Officer HR</span>
<span class="t" style="top:81px;font-size:6.7px;line-height:8.71px;color:#2f3756;font-weight:700;left:367.6px;transform:scaleX(0.8566);transform-origin:left center;">SALARY TYPE :</span>
<span class="t" style="top:81px;font-size:8.2px;line-height:10.66px;color:#f6691d;left:418.8px;transform:scaleX(0.9399);transform-origin:left center;-webkit-text-stroke:0.22px;">Monthly Salary</span>
<span class="t" style="top:130px;font-size:6.4px;line-height:8.32px;color:#1f2536;font-weight:700;left:28.6px;transform:scaleX(1.0109);transform-origin:left center;">MONTH(S)</span>
<span class="t" style="top:149px;font-size:7.9px;line-height:10.27px;color:#333;left:28.6px;transform:scaleX(0.9614);transform-origin:left center;-webkit-text-stroke:0.15px;">November</span>
<span class="t" style="top:130px;font-size:6.4px;line-height:8.32px;color:#1f2536;font-weight:700;left:77.1px;transform:scaleX(0.9014);transform-origin:left center;">BASIC SALARY</span>
<span class="t" style="top:149px;font-size:7.9px;line-height:10.27px;color:#333;left:77.1px;transform:scaleX(1.0158);transform-origin:left center;-webkit-text-stroke:0.15px;">21000</span>
<span class="t" style="top:130px;font-size:6.4px;line-height:8.32px;color:#1f2536;font-weight:700;left:135px;transform:scaleX(0.9249);transform-origin:left center;">CURRENCY</span>
<span class="t" style="top:149px;font-size:7.9px;line-height:10.27px;color:#333;left:135px;transform:scaleX(0.9292);transform-origin:left center;-webkit-text-stroke:0.15px;">Saudi Arabian Riyal</span>
<span class="t" style="top:130px;font-size:6.4px;line-height:8.32px;color:#1f2536;font-weight:700;left:216.6px;transform:scaleX(1.0129);transform-origin:left center;">DAYS IN MONTH</span>
<span class="t" style="top:149px;font-size:7.9px;line-height:10.27px;color:#333;left:216.6px;-webkit-text-stroke:0.15px;">30</span>
<span class="t" style="top:130px;font-size:6.4px;line-height:8.32px;color:#1f2536;font-weight:700;left:283.8px;transform:scaleX(0.9696);transform-origin:left center;">WORKED DAYS</span>
<span class="t" style="top:149px;font-size:7.9px;line-height:10.27px;color:#333;left:283.8px;-webkit-text-stroke:0.15px;">26</span>
<span class="t" style="top:130px;font-size:6.4px;line-height:8.32px;color:#1f2536;font-weight:700;left:344.6px;transform:scaleX(0.9585);transform-origin:left center;">NO OF WEEK ENDS</span>
<span class="t" style="top:149px;font-size:7.9px;line-height:10.27px;color:#333;left:344.6px;transform:scaleX(0.9566);transform-origin:left center;-webkit-text-stroke:0.15px;">4</span>
<span class="t" style="top:130px;font-size:6.4px;line-height:8.32px;color:#1f2536;font-weight:700;left:420.9px;transform:scaleX(0.9807);transform-origin:left center;">NO OF HOLIDAYS</span>
<span class="t" style="top:149px;font-size:7.9px;line-height:10.27px;color:#333;left:420.9px;transform:scaleX(0.9566);transform-origin:left center;-webkit-text-stroke:0.15px;">0</span>
<span class="t" style="top:130px;font-size:6.4px;line-height:8.32px;color:#1f2536;font-weight:700;left:490.1px;transform:scaleX(0.9211);transform-origin:left center;">LEAVE</span>
<span class="t" style="top:149px;font-size:7.9px;line-height:10.27px;color:#333;left:490.1px;transform:scaleX(0.9566);transform-origin:left center;-webkit-text-stroke:0.15px;">0</span>
<span class="t" style="top:130px;font-size:6.4px;line-height:8.32px;color:#1f2536;font-weight:700;left:520.6px;transform:scaleX(0.9582);transform-origin:left center;">OVERTIME HOURS</span>
<span class="t" style="top:149px;font-size:7.9px;line-height:10.27px;color:#333;left:520.6px;transform:scaleX(0.9566);transform-origin:left center;-webkit-text-stroke:0.15px;">0</span>
<span class="t" style="top:177px;font-size:7.8px;line-height:10.14px;color:#2db34a;font-weight:700;left:94.2px;width:200px;text-align:center;transform:scaleX(1.0084);transform-origin:center center;">EARNINGS</span>
<span class="t" style="top:177px;font-size:7.8px;line-height:10.14px;color:#2db34a;font-weight:700;left:376.6px;width:200px;text-align:center;transform:scaleX(1.0376);transform-origin:center center;">DEDUCTIONS</span>
<span class="t" style="top:194px;font-size:7.2px;line-height:9.36px;color:#1f2536;font-weight:700;left:28.7px;transform:scaleX(0.9894);transform-origin:left center;">PARTICULAR</span>
<span class="t" style="top:194px;font-size:7.2px;line-height:9.36px;color:#1f2536;font-weight:700;right:249.8px;transform:scaleX(1.0778);transform-origin:right center;">AMOUNT</span>
<span class="t" style="top:194px;font-size:7.2px;line-height:9.36px;color:#1f2536;font-weight:700;left:367.8px;transform:scaleX(0.9894);transform-origin:left center;">PARTICULAR</span>
<span class="t" style="top:194px;font-size:7.2px;line-height:9.36px;color:#1f2536;font-weight:700;right:24.2px;transform:scaleX(1.0778);transform-origin:right center;">AMOUNT</span>
<span class="t" style="top:210px;font-size:7.4px;line-height:9.62px;color:#333;left:28.7px;-webkit-text-stroke:0.15px;">1</span>
<span class="t" style="top:210px;font-size:7.4px;line-height:9.62px;color:#333;left:41.2px;transform:scaleX(0.9462);transform-origin:left center;-webkit-text-stroke:0.15px;">BASIC SALARY</span>
<span class="t" style="top:225px;font-size:7.4px;line-height:9.62px;color:#333;left:28.7px;-webkit-text-stroke:0.15px;">2</span>
<span class="t" style="top:225px;font-size:7.4px;line-height:9.62px;color:#333;left:41.2px;transform:scaleX(1.0087);transform-origin:left center;-webkit-text-stroke:0.15px;">HOUSING ALLOWANCE</span>
<span class="t" style="top:210px;font-size:7.4px;line-height:9.62px;color:#333;right:249.8px;transform:scaleX(1.0459);transform-origin:right center;-webkit-text-stroke:0.15px;">10,928.57</span>
<span class="t" style="top:225px;font-size:7.4px;line-height:9.62px;color:#333;right:249.8px;transform:scaleX(1.0438);transform-origin:right center;-webkit-text-stroke:0.15px;">592.86</span>
<span class="t" style="top:210px;font-size:7.4px;line-height:9.62px;color:#333;left:367.8px;-webkit-text-stroke:0.15px;">1</span>
<span class="t" style="top:210px;font-size:7.4px;line-height:9.62px;color:#333;left:377.7px;transform:scaleX(0.9855);transform-origin:left center;-webkit-text-stroke:0.15px;">FINE</span>
<span class="t" style="top:210px;font-size:7.4px;line-height:9.62px;color:#333;right:24.2px;transform:scaleX(1.0438);transform-origin:right center;-webkit-text-stroke:0.15px;">928.57</span>
<span class="t" style="top:241px;font-size:7.2px;line-height:9.36px;color:#1f2536;font-weight:700;left:28.7px;transform:scaleX(1.0302);transform-origin:left center;">TOTAL</span>
<span class="t" style="top:241px;font-size:7.2px;line-height:9.36px;color:#1f2536;font-weight:700;right:249.8px;transform:scaleX(1.0957);transform-origin:right center;">11,521.43</span>
<span class="t" style="top:241px;font-size:7.2px;line-height:9.36px;color:#1f2536;font-weight:700;left:367.8px;transform:scaleX(1.0302);transform-origin:left center;">TOTAL</span>
<span class="t" style="top:241px;font-size:7.2px;line-height:9.36px;color:#1f2536;font-weight:700;right:24.2px;transform:scaleX(1.0826);transform-origin:right center;">928.57</span>
<span class="t" style="top:263px;font-size:10.2px;line-height:13.26px;color:#f8702a;left:411px;transform:scaleX(0.9254);transform-origin:left center;-webkit-text-stroke:0.18px;">Round Off: 0.86</span>
<span class="t" style="top:263px;font-size:10.2px;line-height:13.26px;color:#f8702a;left:499.4px;transform:scaleX(0.9173);transform-origin:left center;-webkit-text-stroke:0.18px;">Net Salary: 10,592.00</span>
<span class="t" style="top:340px;font-size:8.2px;line-height:10.66px;color:#3c3c3c;left:559.8px;transform:scaleX(0.9648);transform-origin:left center;">Close</span>
</div></div>


</body>
</html>
